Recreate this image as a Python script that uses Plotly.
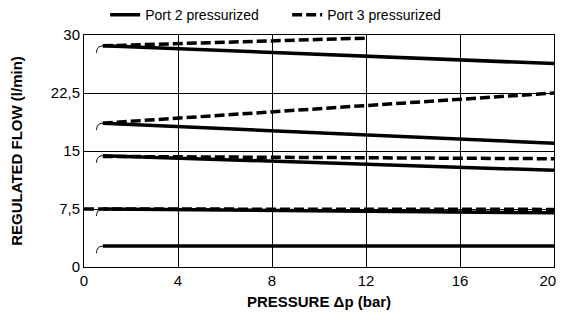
import plotly.graph_objects as go

# ---- data ----
pressure_ticks = [0, 4, 8, 12, 16, 20]
pressure_ticktext = ["0", "4", "8", "12", "16", "20"]
flow_tickvals = [0, 7.5, 15, 22.5, 30]
flow_ticktext = ["0", "7,5", "15", "22,5", "30"]

# Port 2 pressurized (solid) : start/end points of each regulated line
port2_x = [[0.8, 20], [0.8, 20], [0.8, 20], [0.8, 20], [0.8, 20]]
port2_y = [[28.6, 26.3], [18.6, 16.0], [14.4, 12.5], [7.5, 7.0], [2.7, 2.7]]

# Port 3 pressurized (dashed)
port3_x = [[0.8, 12], [0.8, 20], [0.8, 20], [0.0, 20]]
port3_y = [[28.6, 29.6], [18.6, 22.5], [14.3, 14.0], [7.5, 7.45]]

# small start-up hooks (thin curves) before each regulated line
hook_levels = [28.6, 18.6, 14.4, 7.5, 2.7]
hook_x = [0.53, 0.55, 0.6, 0.68, 0.8]
hook_drop = [0.9, 0.55, 0.25, 0.07, 0.0]

BLACK = "#000000"
fig = go.Figure()

for lvl in hook_levels:
    fig.add_trace(go.Scatter(
        x=hook_x, y=[lvl - d for d in hook_drop], mode="lines",
        line=dict(color=BLACK, width=1, shape="spline"),
        showlegend=False, hoverinfo="skip"))

for i, (xs, ys) in enumerate(zip(port2_x, port2_y)):
    fig.add_trace(go.Scatter(
        x=xs, y=ys, mode="lines", name="Port 2 pressurized",
        line=dict(color=BLACK, width=3.5),
        showlegend=(i == 0), legendgroup="p2"))

for i, (xs, ys) in enumerate(zip(port3_x, port3_y)):
    fig.add_trace(go.Scatter(
        x=xs, y=ys, mode="lines", name="Port 3 pressurized",
        line=dict(color=BLACK, width=3.5, dash="10px,4px"),
        showlegend=(i == 0), legendgroup="p3"))

# the last x label sits at the right edge: pad it so it is drawn a bit to the left
x_labels = pressure_ticktext[:-1] + [pressure_ticktext[-1] + "\u00a0\u00a0\u00a0"]

# page body has an 8px default margin, so the figure is offset by 8px
fig.update_layout(
    width=557, height=304,
    margin=dict(l=76, r=11, t=27, b=45, autoexpand=False),
    paper_bgcolor="white", plot_bgcolor="white",
    font=dict(family="Liberation Sans, Arial, sans-serif", color=BLACK, size=15),
    legend=dict(orientation="h", x=0.045, xanchor="left", y=1.086, yanchor="middle",
                font=dict(size=14), bgcolor="rgba(0,0,0,0)",
                entrywidth=137, entrywidthmode="pixels", tracegroupgap=0),
    xaxis=dict(range=[0, 20], tickvals=pressure_ticks, ticktext=x_labels,
               showgrid=True, gridcolor=BLACK, gridwidth=1,
               showline=True, linecolor=BLACK, linewidth=1, mirror=True,
               ticks="", zeroline=False, automargin=True, ticklabeloverflow="allow",
               title=dict(text="<b>PRESSURE Δp (bar)</b>", font=dict(size=15), standoff=8)),
    yaxis=dict(range=[0, 30], tickvals=flow_tickvals, ticktext=flow_ticktext,
               showgrid=True, gridcolor=BLACK, gridwidth=1,
               showline=True, linecolor=BLACK, linewidth=1, mirror=True,
               ticks="", zeroline=False, automargin=False,
               title=dict(text="<b>REGULATED FLOW (l/min)</b>", font=dict(size=15), standoff=24)),
)

fig.write_html("out.html")
